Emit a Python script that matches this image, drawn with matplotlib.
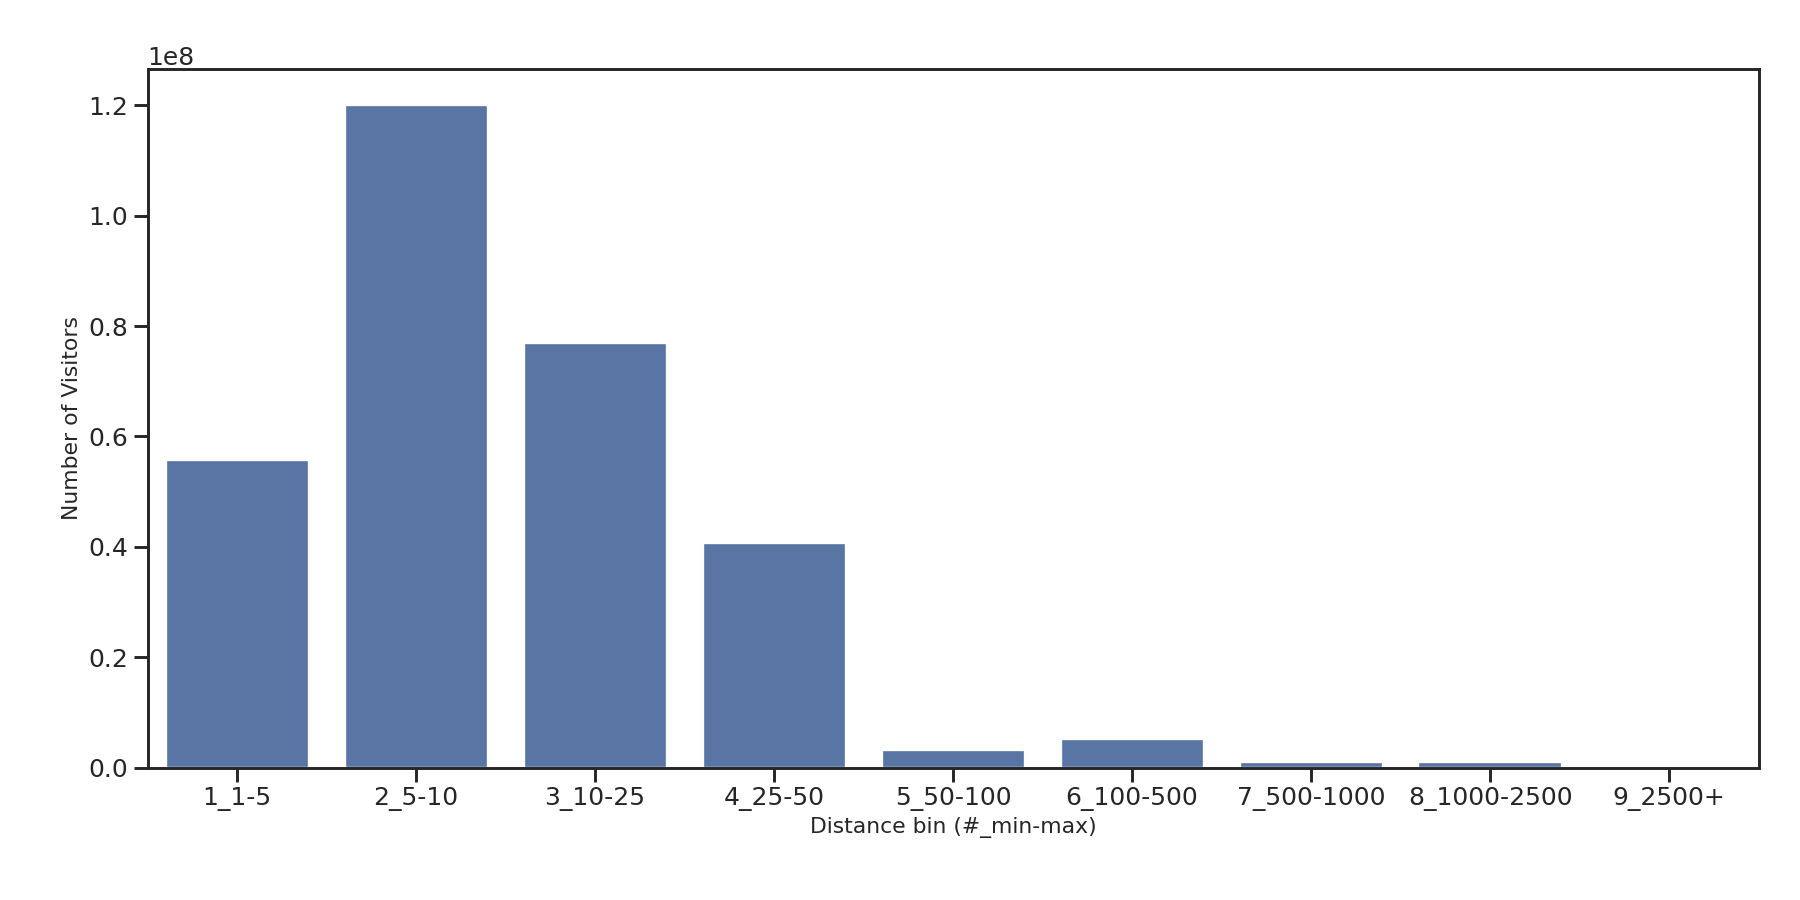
import matplotlib
matplotlib.use("Agg")
import matplotlib.pyplot as plt
import seaborn as sns

categories = ["1_1-5", "2_5-10", "3_10-25", "4_25-50", "5_50-100", "6_100-500", "7_500-1000", "8_1000-2500", "9_2500+"]
visitors = [5.57e7, 1.20e8, 7.70e7, 4.07e7, 3.2e6, 5.2e6, 1.1e6, 1.1e6, 1.0e5]

sns.set_theme(style="ticks", context="talk")
fig = plt.figure(figsize=(16, 8), dpi=112.5)
ax = fig.add_axes([0.082, 0.147, 0.895, 0.776])
ax.bar(range(len(categories)), visitors, width=0.8, color="#5975a4")
ax.set_xticks(range(len(categories)))
ax.set_xticklabels(categories, fontsize=16)
ax.tick_params(axis="y", labelsize=16)
ax.set_xlim(-0.5, len(categories) - 0.5)
ax.set_ylim(0, 1.265e8)
ax.set_xlabel("Distance bin (#_min-max)", fontsize=14)
ax.set_ylabel("Number of Visitors", fontsize=14)
ax.yaxis.get_offset_text().set_fontsize(16)
fig.savefig("out.png")
